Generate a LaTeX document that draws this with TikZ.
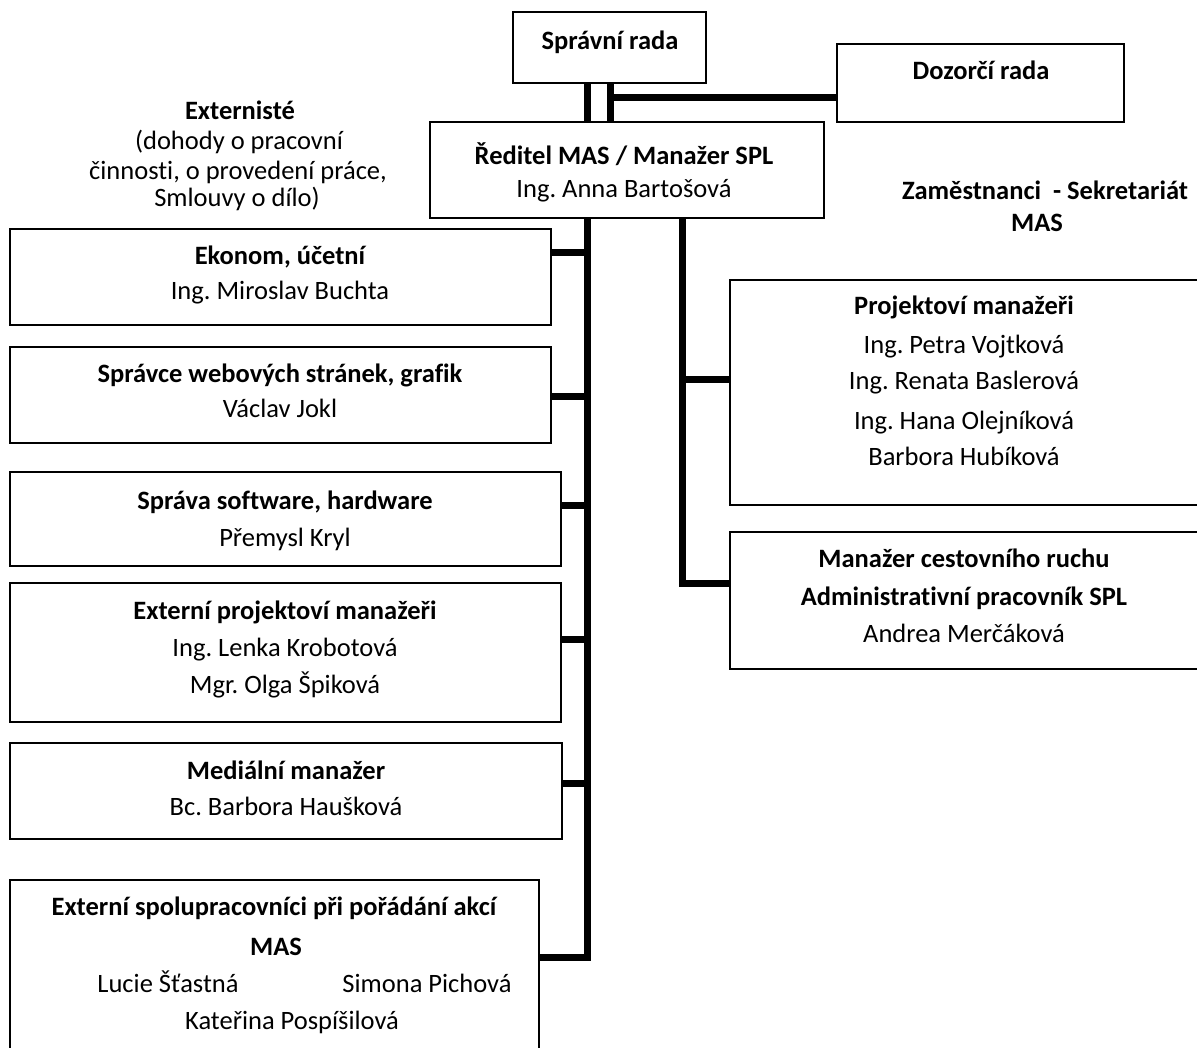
\documentclass[tikz,border=0pt]{standalone}
\usepackage{fontspec}
\setmainfont{Carlito}[RawFeature={-liga}]
\frenchspacing
\begin{document}
\begin{tikzpicture}[x=1pt,y=-1pt,
  box/.style={draw=black,line width=1.8pt,anchor=north west,inner sep=0pt,outer sep=0pt,fill=none},
  conn/.style={draw=black,line width=7pt,line join=miter,line cap=butt},
  ttl/.style={font=\fontsize{26.5}{32}\selectfont\bfseries,anchor=base,inner sep=0pt},
  txt/.style={font=\fontsize{26.5}{32}\selectfont,anchor=base,inner sep=0pt}]
\useasboundingbox (0,0) rectangle (1197,1048);
\clip (0,0) rectangle (1197,1048);
\fill[white] (0,0) rectangle (1197,1048);

% boxes
\node[box,minimum width=193pt,minimum height=71pt] (spravni) at (513,12) {};
\node[box,minimum width=287pt,minimum height=78pt] (dozorci) at (837,44) {};
\node[box,minimum width=394pt,minimum height=96pt] (reditel) at (430,122) {};
\node[box,minimum width=541pt,minimum height=96pt] (ekonom) at (10,229) {};
\node[box,minimum width=541pt,minimum height=96pt] (web) at (10,347) {};
\node[box,minimum width=551pt,minimum height=94pt] (software) at (10,472) {};
\node[box,minimum width=551pt,minimum height=139pt] (extproj) at (10,583) {};
\node[box,minimum width=552pt,minimum height=96pt] (medial) at (10,743) {};
\node[box,minimum width=529pt,minimum height=180pt] (extspol) at (10,880) {};
\node[box,minimum width=472pt,minimum height=225pt] (projekt) at (730,280) {};
\node[box,minimum width=472pt,minimum height=137pt] (cestov) at (730,532) {};

% connector coordinates
\coordinate (ta) at (587,98);
\coordinate (tb) at (610,98);
\coordinate (tl) at (587,957);
\coordinate (tr) at (682,583);
\coordinate (s1) at (587,253);
\coordinate (s2) at (587,397);
\coordinate (s3) at (587,505);
\coordinate (s4) at (587,639);
\coordinate (s5) at (587,783);
\coordinate (r1) at (682,380);

% connectors
\draw[conn] (spravni.south -| ta) -- (reditel.north -| ta);
\draw[conn] (spravni.south -| tb) -- (reditel.north -| tb);
\draw[conn] (tb) -- (dozorci.west |- tb);
\draw[conn] (reditel.south -| tl) -- (tl) -- (extspol.east |- tl);
\draw[conn] (reditel.south -| tr) -- (tr) -- (cestov.west |- tr);
\draw[conn] (ekonom.east |- s1) -- (s1);
\draw[conn] (web.east |- s2) -- (s2);
\draw[conn] (software.east |- s3) -- (s3);
\draw[conn] (extproj.east |- s4) -- (s4);
\draw[conn] (medial.east |- s5) -- (s5);
\draw[conn] (r1) -- (projekt.west |- r1);

% texts
\node[ttl] (t1) at (610,50) {Správní rada};
\node[ttl] (t2) at (981,80) {Dozorčí rada};
\node[ttl] (t3) at (624,165) {Ředitel MAS / Manažer SPL};
\node[txt] (t4) at (624,198) {Ing. Anna Bartošová};

\node[ttl] (e1) at (240,120) {Externisté};
\node[txt] (e2) at (239,150) {(dohody o pracovní};
\node[txt] (e3) at (238,180) {činnosti, o provedení práce,};
\node[txt] (e4) at (237,207) {Smlouvy o dílo)};

\node[ttl] (z1) at (1045,200) {Zaměstnanci\ \ - Sekretariát};
\node[ttl] (z2) at (1037,232) {MAS};

\node[ttl] (a1) at (280,265) {Ekonom, účetní};
\node[txt] (a2) at (280,300) {Ing. Miroslav Buchta};

\node[ttl] (b1) at (280,383) {Správce webových stránek, grafik};
\node[txt] (b2) at (280,418) {Václav Jokl};

\node[ttl] (c1) at (285,509) {Správa software, hardware};
\node[txt] (c2) at (285,546) {Přemysl Kryl};

\node[ttl] (d1) at (285,619) {Externí projektoví manažeři};
\node[txt] (d2) at (285,656) {Ing. Lenka Krobotová};
\node[txt] (d3) at (285,693) {Mgr. Olga Špiková};

\node[ttl] (f1) at (286,779) {Mediální manažer};
\node[txt] (f2) at (286,815) {Bc. Barbora Haušková};

\node[ttl] (g1) at (274,915) {Externí spolupracovníci při pořádání akcí};
\node[ttl] (g2) at (276,955) {MAS};
\node[txt] (g3) at (168,992) {Lucie Šťastná};
\node[txt] (g4) at (427,992) {Simona Pichová};
\node[txt] (g5) at (292,1029) {Kateřina Pospíšilová};

\node[ttl] (p1) at (964,315) {Projektoví manažeři};
\node[txt] (p2) at (964,354) {Ing. Petra Vojtková};
\node[txt] (p3) at (964,390) {Ing. Renata Baslerová};
\node[txt] (p4) at (964,429) {Ing. Hana Olejníková};
\node[txt] (p5) at (964,465) {Barbora Hubíková};

\node[ttl] (m1) at (964,567) {Manažer cestovního ruchu};
\node[ttl] (m2) at (964,605) {Administrativní pracovník SPL};
\node[txt] (m3) at (964,642) {Andrea Merčáková};
\end{tikzpicture}
\end{document}
